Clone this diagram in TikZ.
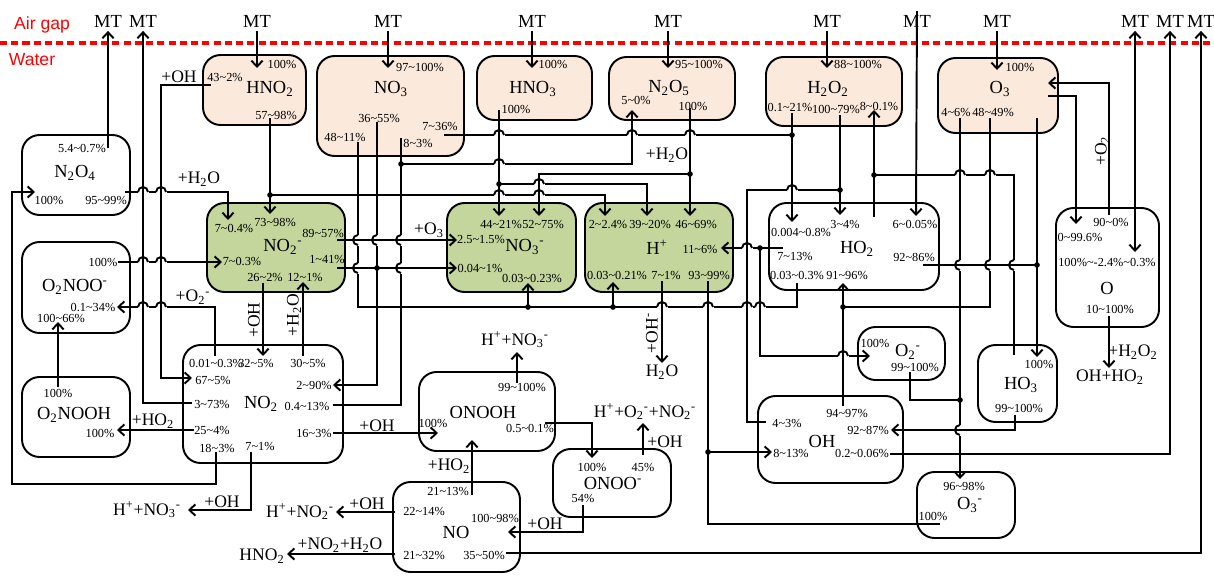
\documentclass[tikz,border=0pt]{standalone}
\usepackage{fontspec}
\setmainfont{Liberation Serif}
\newfontfamily\airfont{Liberation Sans}
\usepackage{tikz}
\usetikzlibrary{positioning}
\usetikzlibrary{arrows.meta}
\usetikzlibrary{fit}
\pgfdeclarelayer{nodelayer}
\pgfdeclarelayer{edgelayer}
\pgfsetlayers{nodelayer,edgelayer,main}
\definecolor{gasfill}{RGB}{251,233,219}
\definecolor{ionfill}{RGB}{196,214,156}
\newcommand\sbs[1]{\textsubscript{#1}}
\newcommand\sps[1]{\textsuperscript{#1}}
\newcommand\rng[2]{#1\textasciitilde#2\%}
% a horizontal wire jumping over a vertical one
\newcommand\hopover[2]{%
  \fill [white] (#1-5.5,#2-1.8) rectangle (#1+5.5,#2+1.8);
  \draw [style=wire] (#1,#2-2.5) to (#1,#2+2.5);
  \draw [style=wire] (#1-5,#2) arc [start angle=180, end angle=360, radius=5];}
% a vertical wire jumping round a horizontal one
\newcommand\hopside[2]{%
  \fill [white] (#1-1.8,#2-5.5) rectangle (#1+1.8,#2+5.5);
  \draw [style=wire] (#1-2.5,#2) to (#1+2.5,#2);
  \draw [style=wire] (#1,#2-5) arc [start angle=270, end angle=90, radius=5];}
\tikzset{
    none/.style = {inner sep=0pt},
    junction/.style = {circle, fill, inner sep=0pt, minimum size=3.2pt},
    species/.style = {draw, line width=1.1pt, rounded corners=10pt, inner sep=0pt},
    gas/.style = {species, fill=gasfill},
    ion/.style = {species, fill=ionfill},
    specname/.style = {inner sep=0pt, font=\fontsize{10.5}{12}\selectfont},
    pct/.style = {inner sep=0pt, font=\fontsize{7}{8}\selectfont},
    react/.style = {inner sep=0pt, font=\fontsize{10}{12}\selectfont},
    mt/.style = {inner sep=2pt, font=\fontsize{10.5}{12}\selectfont},
    phase/.style = {inner sep=0pt, text=red, font=\airfont\fontsize{10}{12}\selectfont},
    wire/.style = {line width=1.1pt},
    flow/.style = {wire, -{Straight Barb[length=3.4pt,width=6.4pt]}},
    flowboth/.style = {wire, {Straight Barb[length=3.4pt,width=6.4pt]}-{Straight Barb[length=3.4pt,width=6.4pt]}},
    surface/.style = {red, line width=2pt, dash pattern=on 4pt off 2.4pt}
}
\begin{document}
\begin{tikzpicture}[x=0.02cm, y=-0.02cm]
  \useasboundingbox (0,0) rectangle (1214,575);
  \begin{pgfonlayer}{nodelayer}
    \fill [white] (0,0) rectangle (1214,575);
    \node [style=phase] (air) at (42,25) {Air gap};
    \node [style=phase] (water) at (32,60) {Water};
    \node [style=mt] (mt1) at (108,21) {MT};
    \node [style=mt] (mt2) at (143,21) {MT};
    \node [style=mt] (mt3) at (257,21) {MT};
    \node [style=mt] (mt4) at (388,21) {MT};
    \node [style=mt] (mt5) at (532,21) {MT};
    \node [style=mt] (mt6) at (668,21) {MT};
    \node [style=mt] (mt7) at (827,21) {MT};
    \node [style=mt] (mt8) at (917,21) {MT};
    \node [style=mt] (mt9) at (997,21) {MT};
    \node [style=mt] (mt10) at (1135,21) {MT};
    \node [style=mt] (mt11) at (1170,21) {MT};
    \node [style=mt] (mt12) at (1201,21) {MT};

    % boxes
    \node [style=gas, fit={(203,55) (306,125)}] (hno2) {};
    \node [style=gas, fit={(317,56) (464,156)}] (no3) {};
    \node [style=gas, fit={(477,56) (592,120)}] (hno3) {};
    \node [style=gas, fit={(609,57) (735,120)}] (n2o5) {};
    \node [style=gas, fit={(766,57) (902,126)}] (h2o2) {};
    \node [style=gas, fit={(938,58) (1058,133)}] (o3) {};
    \node [style=ion, fit={(207,203) (345,292)}] (no2m) {};
    \node [style=ion, fit={(447,203) (576,292)}] (no3m) {};
    \node [style=ion, fit={(585,203) (733,292)}] (hp) {};
    \node [style=species, fit={(22,135) (130,215)}] (n2o4) {};
    \node [style=species, fit={(22,242) (130,333)}] (o2noo) {};
    \node [style=species, fit={(22,377) (130,457)}] (o2nooh) {};
    \node [style=species, fit={(183,345) (343,463)}] (no2) {};
    \node [style=species, fit={(419,372) (555,451)}] (onooh) {};
    \node [style=species, fit={(553,449) (671,517)}] (onoo) {};
    \node [style=species, fit={(393,482) (520,572)}] (no) {};
    \node [style=species, fit={(769,203) (939,290)}] (ho2) {};
    \node [style=species, fit={(1056,208) (1159,327)}] (o) {};
    \node [style=species, fit={(858,327) (945,380)}] (o2m) {};
    \node [style=species, fit={(978,345) (1057,422)}] (ho3) {};
    \node [style=species, fit={(758,396) (903,483)}] (oh) {};
    \node [style=species, fit={(917,472) (1015,538)}] (o3m) {};

    % species names and shares
    \node [style=specname] (hno2-t) at (270,89) {HNO\sbs{2}};
    \node [style=pct] (hno2a) at (282,64) {100\%};
    \node [style=pct] (hno2b) at (225,77) {\rng{43}{2}};
    \node [style=pct] (hno2c) at (276,115) {\rng{57}{98}};
    \node [style=specname] (no3-t) at (391,89) {NO\sbs{3}};
    \node [style=pct] (no3a) at (420,67) {\rng{97}{100}};
    \node [style=pct] (no3b) at (379,118) {\rng{36}{55}};
    \node [style=pct] (no3c) at (345,137) {\rng{48}{11}};
    \node [style=pct] (no3d) at (440,126) {\rng{7}{36}};
    \node [style=pct] (no3e) at (418,143) {\rng{8}{3}};
    \node [style=specname] (hno3-t) at (533,89) {HNO\sbs{3}};
    \node [style=pct] (hno3a) at (553,64) {100\%};
    \node [style=pct] (hno3b) at (516,109) {100\%};
    \node [style=specname] (n2o5-t) at (669,88) {N\sbs{2}O\sbs{5}};
    \node [style=pct] (n2o5a) at (699,64) {\rng{95}{100}};
    \node [style=pct] (n2o5b) at (636,100) {\rng{5}{0}};
    \node [style=pct] (n2o5c) at (693,106) {100\%};
    \node [style=specname] (h2o2-t) at (828,89) {H\sbs{2}O\sbs{2}};
    \node [style=pct] (h2o2a) at (858,64) {\rng{88}{100}};
    \node [style=pct] (h2o2b) at (790,107) {\rng{0.1}{21}};
    \node [style=pct] (h2o2c) at (836,109) {\rng{100}{79}};
    \node [style=pct] (h2o2d) at (879,106) {\rng{8}{0.1}};
    \node [style=specname] (o3-t) at (1000,89) {O\sbs{3}};
    \node [style=pct] (o3a) at (1020,67) {100\%};
    \node [style=pct] (o3b) at (956,112) {\rng{4}{6}};
    \node [style=pct] (o3c) at (993,112) {\rng{48}{49}};
    \node [style=specname] (n2o4-t) at (75,173) {N\sbs{2}O\sbs{4}};
    \node [style=pct] (n2o4a) at (82,148) {\rng{5.4}{0.7}};
    \node [style=pct] (n2o4b) at (49,200) {100\%};
    \node [style=pct] (n2o4c) at (106,200) {\rng{95}{99}};
    \node [style=specname] (o2noo-t) at (75,287) {O\sbs{2}NOO\sps{-}};
    \node [style=pct] (o2nooa) at (103,262) {100\%};
    \node [style=pct] (o2noob) at (93,307) {\rng{0.1}{34}};
    \node [style=pct] (o2nooc) at (61,318) {\rng{100}{66}};
    \node [style=specname] (o2nooh-t) at (74,415) {O\sbs{2}NOOH};
    \node [style=pct] (o2nooha) at (58,393) {100\%};
    \node [style=pct] (o2noohb) at (100,433) {100\%};
    \node [style=specname] (no2m-t) at (283,247) {NO\sbs{2}\sps{-}};
    \node [style=pct] (no2ma) at (234,228) {\rng{7}{0.4}};
    \node [style=pct] (no2mb) at (275,222) {\rng{73}{98}};
    \node [style=pct] (no2mc) at (323,233) {\rng{89}{57}};
    \node [style=pct] (no2md) at (242,261) {\rng{7}{0.3}};
    \node [style=pct] (no2me) at (327,259) {\rng{1}{41}};
    \node [style=pct] (no2mf) at (265,277) {\rng{26}{2}};
    \node [style=pct] (no2mg) at (305,277) {\rng{12}{1}};
    \node [style=specname] (no3m-t) at (525,247) {NO\sbs{3}\sps{-}};
    \node [style=pct] (no3ma) at (501,224) {\rng{44}{21}};
    \node [style=pct] (no3mb) at (543,224) {\rng{52}{75}};
    \node [style=pct] (no3mc) at (481,239) {\rng{2.5}{1.5}};
    \node [style=pct] (no3md) at (480,268) {\rng{0.04}{1}};
    \node [style=pct] (no3me) at (532,278) {\rng{0.03}{0.23}};
    \node [style=specname] (hp-t) at (657,247) {H\sps{+}};
    \node [style=pct] (hpa) at (608,224) {\rng{2}{2.4}};
    \node [style=pct] (hpb) at (650,224) {\rng{39}{20}};
    \node [style=pct] (hpc) at (696,224) {\rng{46}{69}};
    \node [style=pct] (hpd) at (700,249) {\rng{11}{6}};
    \node [style=pct] (hpe) at (617,275) {\rng{0.03}{0.21}};
    \node [style=pct] (hpf) at (666,275) {\rng{7}{1}};
    \node [style=pct] (hpg) at (709,275) {\rng{93}{99}};
    \node [style=specname] (ho2-t) at (857,249) {HO\sbs{2}};
    \node [style=pct] (ho2a) at (801,232) {\rng{0.004}{0.8}};
    \node [style=pct] (ho2b) at (845,224) {\rng{3}{4}};
    \node [style=pct] (ho2c) at (915,224) {\rng{6}{0.05}};
    \node [style=pct] (ho2d) at (795,256) {\rng{7}{13}};
    \node [style=pct] (ho2e) at (914,257) {\rng{92}{86}};
    \node [style=pct] (ho2f) at (797,275) {\rng{0.03}{0.3}};
    \node [style=pct] (ho2g) at (847,275) {\rng{91}{96}};
    \node [style=specname] (o-t) at (1107,288) {O};
    \node [style=pct] (oa) at (1111,222) {\rng{90}{0}};
    \node [style=pct] (ob) at (1080,237) {\rng{0}{99.6}};
    \node [style=pct] (oc) at (1107,262) {100\%\textasciitilde-2.4\%\textasciitilde0.3\%};
    \node [style=pct] (od) at (1110,309) {\rng{10}{100}};
    \node [style=specname] (o2m-t) at (908,352) {O\sbs{2}\sps{-}};
    \node [style=pct] (o2ma) at (875,343) {100\%};
    \node [style=pct] (o2mb) at (915,367) {\rng{99}{100}};
    \node [style=specname] (ho3-t) at (1021,385) {HO\sbs{3}};
    \node [style=pct] (ho3a) at (1039,364) {100\%};
    \node [style=pct] (ho3b) at (1019,408) {\rng{99}{100}};
    \node [style=specname] (no2-t) at (261,404) {NO\sbs{2}};
    \node [style=pct] (no2a) at (216,363) {\rng{0.01}{0.3}};
    \node [style=pct] (no2b) at (256,363) {\rng{32}{5}};
    \node [style=pct] (no2c) at (308,363) {\rng{30}{5}};
    \node [style=pct] (no2d) at (213,380) {\rng{67}{5}};
    \node [style=pct] (no2e) at (314,385) {\rng{2}{90}};
    \node [style=pct] (no2f) at (212,404) {\rng{3}{73}};
    \node [style=pct] (no2g) at (307,406) {\rng{0.4}{13}};
    \node [style=pct] (no2h) at (212,430) {\rng{25}{4}};
    \node [style=pct] (no2i) at (314,433) {\rng{16}{3}};
    \node [style=pct] (no2j) at (217,448) {\rng{18}{3}};
    \node [style=pct] (no2k) at (260,446) {\rng{7}{1}};
    \node [style=specname] (onooh-t) at (483,412) {ONOOH};
    \node [style=pct] (onooha) at (522,387) {\rng{99}{100}};
    \node [style=pct] (onoohb) at (433,423) {100\%};
    \node [style=pct] (onoohc) at (530,428) {\rng{0.5}{0.1}};
    \node [style=specname] (onoo-t) at (613,483) {ONOO\sps{-}};
    \node [style=pct] (onooa) at (592,467) {100\%};
    \node [style=pct] (onoob) at (643,467) {45\%};
    \node [style=pct] (onooc) at (583,498) {54\%};
    \node [style=specname] (no-t) at (456,532) {NO};
    \node [style=pct] (noa) at (448,491) {\rng{21}{13}};
    \node [style=pct] (nob) at (424,511) {\rng{22}{14}};
    \node [style=pct] (noc) at (495,518) {\rng{100}{98}};
    \node [style=pct] (nod) at (424,555) {\rng{21}{32}};
    \node [style=pct] (noe) at (484,555) {\rng{35}{50}};
    \node [style=specname] (oh-t) at (822,441) {OH};
    \node [style=pct] (oha) at (847,413) {\rng{94}{97}};
    \node [style=pct] (ohb) at (787,423) {\rng{4}{3}};
    \node [style=pct] (ohc) at (868,430) {\rng{92}{87}};
    \node [style=pct] (ohd) at (791,453) {\rng{8}{13}};
    \node [style=pct] (ohe) at (862,453) {\rng{0.2}{0.06}};
    \node [style=specname] (o3m-t) at (970,505) {O\sbs{3}\sps{-}};
    \node [style=pct] (o3ma) at (964,486) {\rng{96}{98}};
    \node [style=pct] (o3mb) at (933,516) {100\%};

    % reactants and products
    \node [style=react] (r1) at (179,77) {+OH};
    \node [style=react] (r2) at (199,179) {+H\sbs{2}O};
    \node [style=react] (r3) at (193,297) {+O\sbs{2}\sps{-}};
    \node [style=react, rotate=90] (r4) at (254,320) {+OH};
    \node [style=react, rotate=90] (r5) at (294,315) {+H\sbs{2}O};
    \node [style=react] (r6) at (429,230) {+O\sbs{3}};
    \node [style=react] (r7) at (153,421) {+HO\sbs{2}};
    \node [style=react] (r8) at (222,502) {+OH};
    \node [style=react] (r9) at (377,426) {+OH};
    \node [style=react] (r10) at (449,466) {+HO\sbs{2}};
    \node [style=react] (r11) at (367,504) {+OH};
    \node [style=react] (r12) at (340,545) {+NO\sbs{2}+H\sbs{2}O};
    \node [style=react] (r13) at (545,524) {+OH};
    \node [style=react] (r14) at (665,442) {+OH};
    \node [style=react] (r15) at (667,155) {+H\sbs{2}O};
    \node [style=react, rotate=90] (r16) at (652,333) {+OH\sps{-}};
    \node [style=react, rotate=90] (r17) at (1102,151) {+O\sbs{2}};
    \node [style=react] (r18) at (1133,352) {+H\sbs{2}O\sbs{2}};
    \node [style=react] (p1) at (147,510) {H\sps{+}+NO\sbs{3}\sps{-}};
    \node [style=react] (p2) at (515,340) {H\sps{+}+NO\sbs{3}\sps{-}};
    \node [style=react] (p3) at (300,512) {H\sps{+}+NO\sbs{2}\sps{-}};
    \node [style=react] (p4) at (262,556) {HNO\sbs{2}};
    \node [style=react] (p5) at (645,412) {H\sps{+}+O\sbs{2}\sps{-}+NO\sbs{2}\sps{-}};
    \node [style=react] (p6) at (662,372) {H\sbs{2}O};
    \node [style=react] (p7) at (1110,377) {OH+HO\sbs{2}};

    % wire ends
    \node [style=none] (n2o4-54) at (108,148) {};
    \node [style=none] (no2-3) at (192,403) {};
    \node [style=none] (hno2-100) at (257,68) {};
    \node [style=none] (no3-97) at (388,68) {};
    \node [style=none] (hno3-100) at (532,68) {};
    \node [style=none] (n2o5-95) at (668,68) {};
    \node [style=none] (h2o2-88) at (827,68) {};
    \node [style=none] (ho2-6) at (916,216) {};
    \node [style=none] (o3-100) at (997,70) {};
    \node [style=none] (o-100) at (1135,252) {};
    \node [style=none] (oh-02) at (890,454) {};
    \node [style=none] (no-35) at (506,553) {};
    \node [style=none] (hno2-43) at (211,85) {};
    \node [style=none] (no2-67) at (192,378) {};
    \node [style=none] (hno2-57) at (270,118) {};
    \node [style=none] (no2m-73) at (270,214) {};
    \node [style=junction] (hno2-j) at (270,195) {};
    \node [style=none] (hp-2) at (605,216) {};
    \node [style=none] (n2o4-95) at (125,192) {};
    \node [style=none] (no2m-7a) at (228,220) {};
    \node [style=none] (no2-18) at (216,452) {};
    \node [style=none] (n2o4-100) at (35,192) {};
    \node [style=none] (o2noo-100) at (118,262) {};
    \node [style=none] (no2m-7b) at (222,262) {};
    \node [style=none] (no2-001) at (215,356) {};
    \node [style=none] (o2noo-01) at (117,307) {};
    \node [style=none] (o2nooh-100a) at (58,387) {};
    \node [style=none] (o2noo-66) at (58,322) {};
    \node [style=none] (no2-25) at (194,430) {};
    \node [style=none] (o2nooh-100b) at (117,430) {};
    \node [style=none] (no2-7) at (251,452) {};
    \node [style=none] (p1-in) at (188,510) {};
    \node [style=none] (no2m-26) at (263,283) {};
    \node [style=none] (no2-32) at (263,356) {};
    \node [style=none] (no2-30) at (303,356) {};
    \node [style=none] (no2m-12) at (303,282) {};
    \node [style=none] (no2m-89) at (337,240) {};
    \node [style=none] (no3m-25) at (457,240) {};
    \node [style=none] (no2m-1) at (337,268) {};
    \node [style=none] (no3m-004) at (457,268) {};
    \node [style=none] (no3-48) at (358,142) {};
    \node [style=none] (ho2-003) at (797,283) {};
    \node [style=junction] (no3m-j) at (528,307) {};
    \node [style=none] (no3m-003) at (528,283) {};
    \node [style=junction] (hp-j) at (613,307) {};
    \node [style=none] (hp-003) at (613,282) {};
    \node [style=none] (no3-36) at (377,122) {};
    \node [style=none] (no2-2) at (333,385) {};
    \node [style=junction] (no2m-j) at (377,268) {};
    \node [style=none] (no2-04) at (333,405) {};
    \node [style=none] (no3-8) at (401,138) {};
    \node [style=junction] (no3-j) at (401,164) {};
    \node [style=none] (n2o5-5) at (632,110) {};
    \node [style=none] (no3-7) at (444,135) {};
    \node [style=junction] (h2o2-j) at (792,135) {};
    \node [style=none] (h2o2-01) at (792,113) {};
    \node [style=none] (ho2-0004) at (792,222) {};
    \node [style=none] (h2o2-100) at (840,115) {};
    \node [style=none] (ho2-3) at (840,215) {};
    \node [style=junction] (h2o2-j2) at (840,190) {};
    \node [style=none] (oh-4) at (766,422) {};
    \node [style=none] (ho2-7) at (783,248) {};
    \node [style=none] (hp-11) at (721,248) {};
    \node [style=junction] (ho2-j) at (760,248) {};
    \node [style=none] (o2m-100) at (870,356) {};
    \node [style=none] (hp-93) at (708,281) {};
    \node [style=none] (o3m-100) at (940,524) {};
    \node [style=junction] (hp-j2) at (708,452) {};
    \node [style=none] (oh-8) at (772,452) {};
    \node [style=none] (oh-94) at (843,406) {};
    \node [style=none] (ho2-91) at (843,283) {};
    \node [style=junction] (oh-j) at (843,307) {};
    \node [style=none] (o3-48) at (990,118) {};
    \node [style=none] (o3-4) at (960,118) {};
    \node [style=none] (o3m-96) at (960,479) {};
    \node [style=junction] (o3-j) at (960,400) {};
    \node [style=none] (o2m-99) at (910,372) {};
    \node [style=none] (ho3-up) at (1014,355) {};
    \node [style=none] (h2o2-8) at (874,110) {};
    \node [style=junction] (h2o2-j3) at (874,175) {};
    \node [style=none] (ho2-up) at (874,217) {};
    \node [style=none] (ho2-92) at (923,265) {};
    \node [style=junction] (ho3-j) at (1037,265) {};
    \node [style=none] (o3-dn) at (1037,118) {};
    \node [style=none] (ho3-100) at (1037,357) {};
    \node [style=none] (o3-out) at (1048,96) {};
    \node [style=none] (o-0) at (1076,224) {};
    \node [style=none] (o-90) at (1109,215) {};
    \node [style=none] (o3-in) at (1048,83) {};
    \node [style=none] (o-10) at (1109,316) {};
    \node [style=none] (p7-in) at (1109,368) {};
    \node [style=none] (ho3-99) at (1015,415) {};
    \node [style=none] (oh-92) at (891,430) {};
    \node [style=none] (onooh-99) at (517,383) {};
    \node [style=none] (p2-in) at (517,352) {};
    \node [style=none] (no2-16) at (333,433) {};
    \node [style=none] (onooh-100) at (438,433) {};
    \node [style=none] (onooh-05) at (545,423) {};
    \node [style=none] (onoo-100) at (592,458) {};
    \node [style=none] (no-21) at (472,495) {};
    \node [style=none] (onooh-in) at (472,440) {};
    \node [style=none] (no-22) at (395,512) {};
    \node [style=none] (p3-in) at (336,512) {};
    \node [style=none] (no-21b) at (395,554) {};
    \node [style=none] (p4-in) at (287,554) {};
    \node [style=none] (onoo-54) at (583,505) {};
    \node [style=none] (no-100) at (508,532) {};
    \node [style=none] (onoo-45) at (643,455) {};
    \node [style=none] (p5-in) at (643,423) {};
    \node [style=none] (hp-7) at (662,281) {};
    \node [style=none] (p6-in) at (662,363) {};
    \node [style=none] (n2o5-100) at (690,108) {};
    \node [style=none] (hp-46) at (690,216) {};
    \node [style=junction] (n2o5-j) at (690,174) {};
    \node [style=none] (no3m-52) at (539,216) {};
    \node [style=none] (hno3-100b) at (499,110) {};
    \node [style=none] (no3m-44) at (499,216) {};
    \node [style=junction] (hno3-j) at (499,184) {};
    \node [style=none] (hp-39) at (647,216) {};
  \end{pgfonlayer}
  \begin{pgfonlayer}{edgelayer}
    \draw [style=surface] (0,43) to (1214,43);
    % mass transfer
    \draw [style=flow] (n2o4-54.center) to (mt1.south);
    \draw [style=flow] (no2-3.center) to (143,403) to (mt2.south);
    \draw [style=flow] (mt3.south) to (hno2-100.center);
    \draw [style=flow] (mt4.south) to (no3-97.center);
    \draw [style=flow] (mt5.south) to (hno3-100.center);
    \draw [style=flow] (mt6.south) to (n2o5-95.center);
    \draw [style=flow] (mt7.south) to (h2o2-88.center);
    \draw [style=flow] (mt8.north) to (ho2-6.center);
    \draw [style=flow] (mt9.south) to (o3-100.center);
    \draw [style=flowboth] (o-100.center) to (mt10.south);
    \draw [style=flow] (oh-02.center) to (1170,454) to (mt11.south);
    \draw [style=flow] (no-35.center) to (1201,553) to (mt12.south);
    % reactions
    \draw [style=flow] (hno2-43.center) to (161,85) to (161,378) to (no2-67.center);
    \draw [style=flow] (hno2-57.center) to (no2m-73.center);
    \draw [style=flow] (hno2-j.center) to (605,195) to (hp-2.center);
    \draw [style=flow] (n2o4-95.center) to (228,192) to (no2m-7a.center);
    \draw [style=flow] (no2-18.center) to (216,484) to (12,484) to (12,192) to (n2o4-100.center);
    \draw [style=flow] (o2noo-100.center) to (no2m-7b.center);
    \draw [style=flow] (no2-001.center) to (215,307) to (o2noo-01.center);
    \draw [style=flow] (o2nooh-100a.center) to (o2noo-66.center);
    \draw [style=flow] (no2-25.center) to (o2nooh-100b.center);
    \draw [style=flow] (no2-7.center) to (251,510) to (p1-in.center);
    \draw [style=flow] (no2m-26.center) to (no2-32.center);
    \draw [style=flow] (no2-30.center) to (no2m-12.center);
    \draw [style=flow] (no2m-89.center) to (no3m-25.center);
    \draw [style=flow] (no2m-1.center) to (no3m-004.center);
    \draw [style=wire] (no3-48.center) to (358,307) to (797,307) to (ho2-003.center);
    \draw [style=flow] (no3m-j.center) to (no3m-003.center);
    \draw [style=flow] (hp-j.center) to (hp-003.center);
    \draw [style=flow] (no3-36.center) to (377,385) to (no2-2.center);
    \draw [style=wire] (no2-04.center) to (401,405) to (no3-8.center);
    \draw [style=flow] (no3-j.center) to (632,164) to (n2o5-5.center);
    \draw [style=wire] (no3-7.center) to (h2o2-j.center);
    \draw [style=flow] (h2o2-01.center) to (ho2-0004.center);
    \draw [style=flow] (h2o2-100.center) to (ho2-3.center);
    \draw [style=wire] (h2o2-j2.center) to (747,190) to (747,422) to (oh-4.center);
    \draw [style=flow] (ho2-7.center) to (hp-11.center);
    \draw [style=flow] (ho2-j.center) to (760,356) to (o2m-100.center);
    \draw [style=wire] (hp-93.center) to (708,524) to (o3m-100.center);
    \draw [style=flow] (hp-j2.center) to (oh-8.center);
    \draw [style=flow] (oh-94.center) to (ho2-91.center);
    \draw [style=wire] (o3-48.center) to (990,307) to (oh-j.center);
    \draw [style=flow] (o3-4.center) to (o3m-96.center);
    \draw [style=wire] (o2m-99.center) to (910,400) to (o3-j.center);
    \draw [style=flow] (ho3-up.center) to (1014,175) to (874,175) to (h2o2-8.center);
    \draw [style=wire] (ho2-up.center) to (h2o2-j3.center);
    \draw [style=wire] (ho2-92.center) to (ho3-j.center);
    \draw [style=flow] (o3-dn.center) to (ho3-100.center);
    \draw [style=flow] (o3-out.center) to (1076,96) to (o-0.center);
    \draw [style=flow] (o-90.center) to (1109,83) to (o3-in.center);
    \draw [style=flow] (o-10.center) to (p7-in.center);
    \draw [style=flow] (ho3-99.center) to (1015,430) to (oh-92.center);
    \draw [style=flow] (onooh-99.center) to (p2-in.center);
    \draw [style=flow] (no2-16.center) to (onooh-100.center);
    \draw [style=flow] (onooh-05.center) to (592,423) to (onoo-100.center);
    \draw [style=flow] (no-21.center) to (onooh-in.center);
    \draw [style=flow] (no-22.center) to (p3-in.center);
    \draw [style=flow] (no-21b.center) to (p4-in.center);
    \draw [style=flow] (onoo-54.center) to (583,532) to (no-100.center);
    \draw [style=flow] (onoo-45.center) to (p5-in.center);
    \draw [style=flow] (hp-7.center) to (p6-in.center);
    \draw [style=flow] (n2o5-100.center) to (hp-46.center);
    \draw [style=flow] (n2o5-j.center) to (539,174) to (no3m-52.center);
    \draw [style=flow] (hno3-100b.center) to (no3m-44.center);
    \draw [style=flow] (hno3-j.center) to (647,184) to (hp-39.center);
    % crossings
    \hopover{143}{192} \hopover{161}{192}
    \hopover{143}{262} \hopover{161}{262}
    \hopover{143}{307} \hopover{161}{307}
    \hopover{499}{195} \hopover{539}{195}
    \hopover{499}{135} \hopover{632}{135} \hopover{690}{135}
    \hopover{499}{164} \hopover{539}{184}
    \hopover{792}{190} \hopover{747}{248} \hopover{843}{356}
    \hopover{662}{307} \hopover{708}{307} \hopover{747}{307} \hopover{760}{307}
    \hopover{960}{175} \hopover{990}{175}
    \hopside{358}{240} \hopside{377}{240} \hopside{401}{240}
    \hopside{358}{268} \hopside{401}{268}
    \hopside{960}{265} \hopside{990}{265} \hopside{1014}{265}
    \hopside{960}{430}
  \end{pgfonlayer}
\end{tikzpicture}
\end{document}
